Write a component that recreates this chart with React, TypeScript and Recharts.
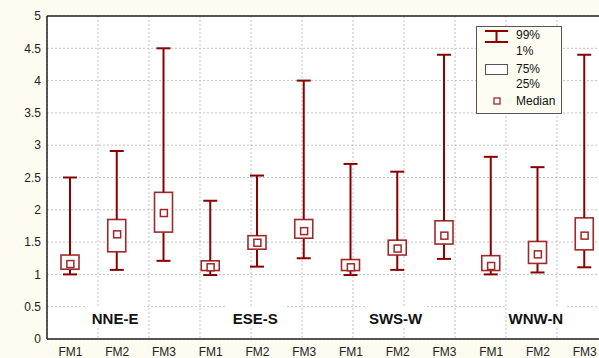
import React from "react";
import {
  ComposedChart,
  Bar,
  Scatter,
  XAxis,
  YAxis,
  CartesianGrid,
  ReferenceLine,
  ReferenceDot,
} from "recharts";

const groups = ["NNE-E", "ESE-S", "SWS-W", "WNW-N"];
const models = ["FM1", "FM2", "FM3"];

// percentiles per box, in order NNE-E FM1..FM3, ESE-S FM1..FM3, ...
const p01 = [1.0, 1.07, 1.21, 0.99, 1.12, 1.25, 0.99, 1.07, 1.24, 1.0, 1.03, 1.11];
const p25 = [1.08, 1.35, 1.655, 1.06, 1.39, 1.56, 1.06, 1.3, 1.47, 1.06, 1.17, 1.38];
const medians = [1.16, 1.62, 1.95, 1.11, 1.49, 1.67, 1.11, 1.4, 1.6, 1.13, 1.31, 1.6];
const p75 = [1.3, 1.85, 2.27, 1.21, 1.6, 1.85, 1.23, 1.53, 1.83, 1.29, 1.51, 1.875];
const p99 = [2.5, 2.91, 4.5, 2.14, 2.53, 4.0, 2.71, 2.59, 4.4, 2.82, 2.66, 4.4];

const yTicks = [0, 0.5, 1, 1.5, 2, 2.5, 3, 3.5, 4, 4.5, 5];
const boundaryTicks = [1, 2, 3, 4, 5, 6, 7, 8, 9, 10, 11];
const TAG_Y = 0.31;

const data = p01.map((lo, i) => {
  const g = groups[Math.floor(i / 3)];
  const m = models[i % 3];
  return {
    id: g + " " + m,
    model: m,
    base: lo,
    lowW: p25[i] - lo,
    box: p75[i] - p25[i],
    upW: p99[i] - p75[i],
    med: medians[i],
  };
});

const RED = "#8b0000";
const BOXRED = "#a02828";
const FONT = "'Liberation Sans', Arial, sans-serif";

const Nothing = () => <g />;

const LowWhisker = (p: any) => {
  const cx = p.x + p.width / 2;
  return (
    <g>
      <line x1={cx} x2={cx} y1={p.y} y2={p.y + p.height} stroke={RED} strokeWidth={2} />
      <line x1={cx - 7} x2={cx + 7} y1={p.y + p.height} y2={p.y + p.height} stroke={RED} strokeWidth={2} />
    </g>
  );
};

const UpWhisker = (p: any) => {
  const cx = p.x + p.width / 2;
  return (
    <g>
      <line x1={cx} x2={cx} y1={p.y} y2={p.y + p.height} stroke={RED} strokeWidth={2} />
      <line x1={cx - 7} x2={cx + 7} y1={p.y} y2={p.y} stroke={RED} strokeWidth={2} />
    </g>
  );
};

const BoxShape = (p: any) => (
  <rect x={p.x} y={p.y} width={p.width} height={p.height} fill="#fff" stroke={BOXRED} strokeWidth={1.6} />
);

const MedianMark = (p: any) => (
  <rect x={p.cx - 3.5} y={p.cy - 3.5} width={7} height={7} fill="#fff" stroke={BOXRED} strokeWidth={1.5} />
);

const GroupTag = (name: string) => (p: any) => (
  <g>
    <rect x={p.cx - 31} y={p.cy - 13} width={58} height={22} fill="#fff" />
    <text
      x={p.cx - 2}
      y={p.cy}
      textAnchor="middle"
      dominantBaseline="central"
      fontFamily={FONT}
      fontWeight="bold"
      fontSize={15}
      fill="#111"
    >
      {name}
    </text>
  </g>
);

function LegendBox() {
  const txt: React.CSSProperties = {
    position: "absolute",
    left: 39,
    fontSize: 12,
    lineHeight: "14px",
    color: "#111",
  };
  return (
    <div
      style={{
        position: "absolute",
        left: 476,
        top: 26,
        width: 84,
        height: 86,
        border: "1px solid #555",
        background: "#fffcf2",
        fontFamily: FONT,
      }}
    >
      <svg style={{ position: "absolute", left: 0, top: 0 }} width={84} height={86}>
        <line x1={8} x2={31} y1={4} y2={4} stroke={RED} strokeWidth={2} />
        <line x1={19.5} x2={19.5} y1={4} y2={15} stroke={RED} strokeWidth={2} />
        <line x1={8} x2={31} y1={15} y2={15} stroke={RED} strokeWidth={2} />
        <rect x={8.5} y={37.5} width={22} height={10} fill="#fff" stroke="#555" strokeWidth={1} />
        <rect x={17} y={71} width={6} height={6} fill="#fff" stroke={BOXRED} strokeWidth={1.3} />
      </svg>
      <div style={{ ...txt, top: 1 }}>99%</div>
      <div style={{ ...txt, top: 17 }}>1%</div>
      <div style={{ ...txt, top: 35 }}>75%</div>
      <div style={{ ...txt, top: 50 }}>25%</div>
      <div style={{ ...txt, top: 67 }}>Median</div>
    </div>
  );
}

export default function App() {
  return (
    <div
      style={{
        position: "absolute",
        left: 0,
        top: 0,
        width: 599,
        height: 358,
        overflow: "hidden",
        background: "#fefbf0",
        fontFamily: FONT,
      }}
    >
      <ComposedChart
        width={620}
        height={358}
        data={data}
        margin={{ top: 16, right: 12, bottom: 0, left: 0 }}
      >
        <CartesianGrid
          xAxisId="grid"
          stroke="#c4c4c4"
          strokeDasharray="2 2"
          fill="#fff"
          horizontalValues={yTicks}
        />
        <XAxis xAxisId="grid" type="number" domain={[0, 12]} ticks={boundaryTicks} hide />
        <XAxis
          xAxisId="cat"
          dataKey="id"
          type="category"
          tickFormatter={(v: string) => v.split(" ")[1]}
          height={19}
          axisLine={{ stroke: "#222", strokeWidth: 1.5 }}
          tickLine={false}
          tick={{ fill: "#222", fontSize: 12, fontFamily: FONT }}
          interval={0}
        />
        <YAxis
          domain={[0, 5]}
          ticks={yTicks}
          width={47}
          axisLine={{ stroke: "#222", strokeWidth: 1.5 }}
          tickLine={false}
          tickMargin={0}
          tick={{ fill: "#222", fontSize: 12, fontFamily: FONT }}
        />
        <ReferenceLine y={5} xAxisId="cat" stroke="#222" strokeWidth={1.5} />
        {groups.map((g) => (
          <ReferenceDot
            key={g}
            xAxisId="cat"
            x={g + " FM2"}
            y={TAG_Y}
            shape={GroupTag(g)}
          />
        ))}
        <Bar xAxisId="cat" dataKey="base" stackId="s" barSize={18} shape={Nothing} isAnimationActive={false} />
        <Bar xAxisId="cat" dataKey="lowW" stackId="s" barSize={18} shape={LowWhisker} isAnimationActive={false} />
        <Bar xAxisId="cat" dataKey="box" stackId="s" barSize={18} shape={BoxShape} isAnimationActive={false} />
        <Bar xAxisId="cat" dataKey="upW" stackId="s" barSize={18} shape={UpWhisker} isAnimationActive={false} />
        <Scatter xAxisId="cat" dataKey="med" shape={MedianMark} isAnimationActive={false} />
      </ComposedChart>
      <LegendBox />
    </div>
  );
}
